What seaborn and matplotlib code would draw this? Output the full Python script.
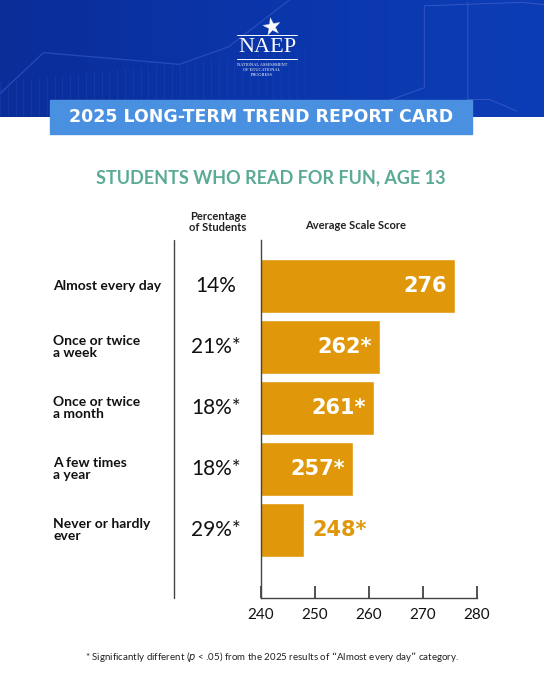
import numpy as np
import pandas as pd
import matplotlib.pyplot as plt
import matplotlib.transforms as mtransforms
from matplotlib.lines import Line2D
from matplotlib.patches import Rectangle
from matplotlib.colors import LinearSegmentedColormap
import seaborn as sns

categories = ['Almost every day', 'Once or twice\na week', 'Once or twice\na month',
              'A few times\na year', 'Never or hardly\never']
scores = [276, 262, 261, 257, 248]
score_labels = ['276', '262*', '261*', '257*', '248*']
percents = ['14%', '21%*', '18%*', '18%*', '29%*']
x_ticks = [240, 250, 260, 270, 280]

df = pd.DataFrame({'category': categories, 'score': scores})

sns.set_theme(style='white')
plt.rcParams['font.family'] = ['Lato', 'DejaVu Sans']

W, H = 544, 680
fig = plt.figure(figsize=(W / 100, H / 100), dpi=100)

def fx(px):
    return px / W

def fy(py):
    return 1 - py / H

# header band
hdr = fig.add_axes([0, fy(117), 1, 117 / H])
grad = np.linspace(0, 1, 256)[None, :]
cmap = LinearSegmentedColormap.from_list('hdr', ['#0b2d98', '#0a36ab', '#0d3db6'])
hdr.imshow(grad, aspect='auto', cmap=cmap, extent=[0, 1, 0, 1])
# faint decoration
hdr.plot([0, 0.08, 0.33, 0.42, 0.56], [0.2, 0.55, 0.45, 0.6, 1.1], color='#2a4fc0', lw=1, alpha=0.8)
for xd in np.linspace(0.0, 0.56, 40):
    hdr.plot([xd, xd], [0, 0.3 + 0.5 * xd], color='#1a40b4', lw=0.6, alpha=0.6)
hdr.plot([0.69, 0.78, 0.78, 0.96, 1.0], [0.1, 0.25, 0.95, 0.98, 0.96], color='#3356c4', lw=0.7)
hdr.plot([0.86, 0.86, 0.9, 0.95], [0.98, 0.15, 0.15, 0.05], color='#3356c4', lw=0.7)
hdr.set_xlim(0, 1)
hdr.set_ylim(0, 1)
hdr.axis('off')

# NAEP logo
fig.text(fx(272), fy(27), '\u2605', color='white', fontsize=17, ha='center', va='center',
         family=['DejaVu Sans'], rotation=10)
fig.add_artist(Line2D([fx(237), fx(297)], [fy(35), fy(35)], color='white', lw=0.7))
fig.text(fx(267), fy(47), 'NAEP', color='white', fontsize=16, ha='center', va='center',
         family=['Liberation Serif'])
fig.add_artist(Line2D([fx(237), fx(297)], [fy(59), fy(59)], color='white', lw=0.7))
fig.text(fx(262), fy(70), 'NATIONAL ASSESSMENT\nOF EDUCATIONAL\nPROGRESS', color='white',
         fontsize=3.2, ha='center', va='center', linespacing=1.2, family=['Liberation Serif'])

# banner
fig.add_artist(Rectangle((fx(50), fy(134)), fx(422), 34 / H, transform=fig.transFigure,
                         color='#4a90e0', zorder=3))
fig.text(fx(261), fy(117), '2025 LONG-TERM TREND REPORT CARD', color='white', fontsize=12.5,
         fontweight='bold', ha='center', va='center', zorder=4, family=['DejaVu Sans'])

# chart title
fig.text(fx(271), fy(178), 'STUDENTS WHO READ FOR FUN, AGE 13', color='#5aaa96', fontsize=13,
         fontweight='bold', ha='center', va='center')

# column headers
fig.text(fx(218), fy(222), 'Percentage\nof Students', fontsize=8, ha='center', va='center',
         color='#222222', fontweight='bold', linespacing=1.1)
fig.text(fx(356), fy(226), 'Average Scale Score', fontsize=8, ha='center', va='center',
         color='#222222', fontweight='bold')

ax = fig.add_axes([fx(261), fy(598), fx(477) - fx(261), (598 - 240) / H])
sns.barplot(data=df, y='category', x='score', orient='h', color='#e0970a', saturation=1,
            width=0.88, ax=ax)
ax.set_xlim(240, 280)
ax.set_ylim(5.11, -0.75)
ax.set_xticks(x_ticks)
ax.set_xticklabels([str(t) for t in x_ticks], fontsize=11)
ax.set_yticks([])
ax.set_xlabel('')
ax.set_ylabel('')
ax.tick_params(axis='x', which='major', direction='in', length=9, width=1.2, color='#333333',
               pad=7, labelcolor='#111111', bottom=True)
for s in ['top', 'right']:
    ax.spines[s].set_visible(False)
for s in ['left', 'bottom']:
    ax.spines[s].set_color('#444444')
    ax.spines[s].set_linewidth(1)

trans = mtransforms.blended_transform_factory(fig.transFigure, ax.transData)
for i, (cat, sc, lab, pc) in enumerate(zip(categories, scores, score_labels, percents)):
    ax.text(fx(53), i, cat, transform=trans, fontsize=10, fontweight='bold', ha='left',
            va='center', color='#111111', linespacing=1.05, clip_on=False)
    ax.text(fx(216), i, pc, transform=trans, fontsize=15, fontweight='normal', ha='center',
            va='center', color='#111111', clip_on=False)
    if sc - 240 > 12:
        ax.text(sc - 1.5, i, lab, fontsize=15, fontweight='bold', color='white', ha='right',
                va='center', family=['DejaVu Sans'])
    else:
        ax.text(sc + 1.5, i, lab, fontsize=15, fontweight='bold', color='#e0970a', ha='left',
                va='center', family=['DejaVu Sans'])

fig.add_artist(Line2D([fx(174), fx(174)], [fy(240), fy(598)], color='#444444', lw=1))

fig.text(fx(272), fy(657),
         '* Significantly different ($\\it{p}$ < .05) from the 2025 results of \u201cAlmost every day\u201d category.',
         fontsize=7, ha='center', va='center', color='#222222')

fig.savefig('out.png', dpi=100)
